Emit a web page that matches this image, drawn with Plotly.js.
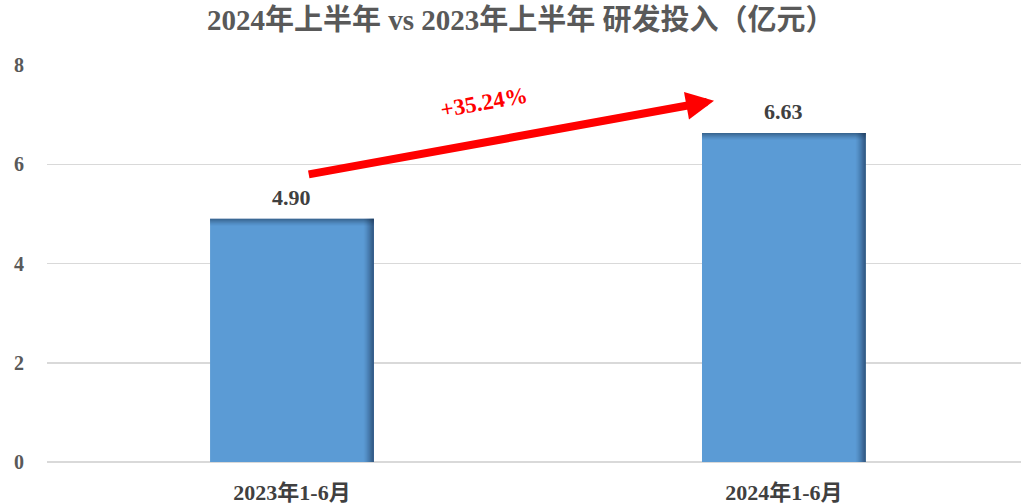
<!DOCTYPE html>
<html>
<head>
<meta charset="utf-8">
<script src="https://cdn.plot.ly/plotly-3.0.1.min.js"></script>
<style>html,body{margin:0;padding:0;background:#fff;}#chart{width:1021px;height:504px;}</style>
</head>
<body>
<div id="chart"></div>
<script>
const categories = ["2023年1-6月", "2024年1-6月"];
const values = [4.90, 6.63];
const valueLabels = ["4.90", "6.63"];
const growthLabel = "+35.24%";
const titleText = "2024年上半年 vs 2023年上半年 研发投入（亿元）";
const yTicks = [0, 2, 4, 6, 8];

const FONT = "'Liberation Serif', 'Times New Roman', 'Noto Sans CJK SC', serif";
const barWidth = 0.333;

const shapes = [];
// shadow-like darkening on right and top edges of each bar
values.forEach((v, i) => {
  const steps = 10;
  for (let k = 0; k < steps; k++) {
    const op = 0.1 * (1 - k / steps) + 0.02;
    shapes.push({type: 'rect', xref: 'x', yref: 'y', xsizemode: 'pixel',
      xanchor: i + barWidth / 2, x0: -(k + 1), x1: 0, y0: 0, y1: v,
      fillcolor: 'rgba(20,40,70,' + op + ')', line: {width: 0}, layer: 'above'});
  }
  for (let k = 0; k < 7; k++) {
    const op = 0.1 * (1 - k / 7) + 0.02;
    shapes.push({type: 'rect', xref: 'x', yref: 'y', ysizemode: 'pixel',
      yanchor: v, y0: -(k + 1), y1: 0, x0: i - barWidth / 2, x1: i + barWidth / 2,
      fillcolor: 'rgba(20,40,70,' + op + ')', line: {width: 0}, layer: 'above'});
  }
});

const annotations = values.map((v, i) => ({
  x: i, y: v, xref: 'x', yref: 'y', text: '<b>' + valueLabels[i] + '</b>',
  showarrow: false, yanchor: 'bottom', yshift: 7,
  font: {family: FONT, size: 22, color: '#404040'}
}));

// growth arrow between bars
annotations.push({
  x: 0.858, y: values[1] + 0.65, ax: 0.031, ay: values[0] + 0.89,
  xref: 'x', yref: 'y', axref: 'x', ayref: 'y',
  showarrow: true, arrowhead: 2, arrowsize: 0.7, arrowwidth: 8, arrowcolor: '#ff0000',
  text: ''
});
annotations.push({
  x: 0.39, y: 7.25, xref: 'x', yref: 'y', text: '<b>' + growthLabel + '</b>',
  showarrow: false, textangle: -10,
  font: {family: FONT, size: 23, color: '#ff0000'}
});

const data = [{
  type: 'bar', x: [0, 1], y: values, width: barWidth,
  marker: {color: '#5b9bd5', line: {width: 0}},
  hoverinfo: 'skip'
}];

const layout = {
  width: 1021, height: 504,
  margin: {l: 47, r: 0, t: 65, b: 42},
  paper_bgcolor: '#ffffff', plot_bgcolor: '#ffffff',
  showlegend: false,
  title: {text: '<b>' + titleText + '</b>', x: 0.51, xanchor: 'center', y: 0.96, yanchor: 'middle',
    font: {family: FONT, size: 29, color: '#595959'}},
  xaxis: {range: [-0.498, 1.482], tickmode: 'array', tickvals: [0, 1], ticktext: categories.map(c => '<b>' + c + '</b>'),
    showgrid: false, zeroline: false, showline: false, ticks: '',
    ticklabelstandoff: 15,
    tickfont: {family: FONT, size: 22, color: '#404040'}},
  yaxis: {range: [0, 8], tickmode: 'array', tickvals: yTicks, ticktext: yTicks.map(t => '<b>' + t + '</b>'),
    showgrid: true, gridcolor: '#d9d9d9', gridwidth: 1.5, zeroline: true, zerolinecolor: '#d9d9d9', zerolinewidth: 1.5,
    showline: false, ticks: '', ticklabelstandoff: 22,
    tickfont: {family: FONT, size: 20, color: '#595959'}},
  shapes: shapes,
  annotations: annotations
};

Plotly.newPlot('chart', data, layout, {displayModeBar: false, staticPlot: true});
</script>
</body>
</html>
